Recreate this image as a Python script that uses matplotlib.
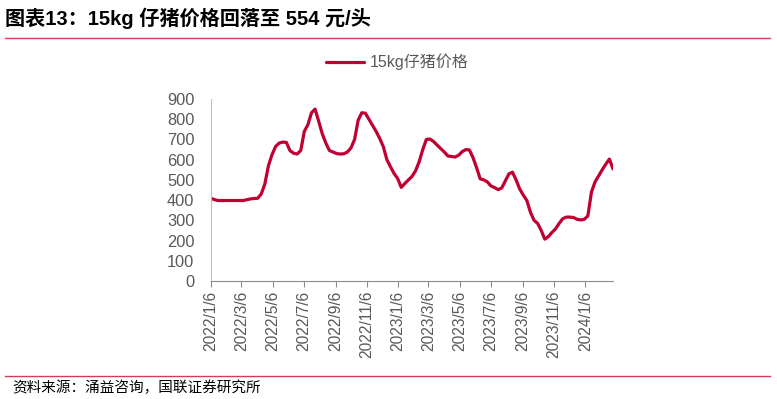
import numpy as np
import pandas as pd
import matplotlib
matplotlib.use("Agg")
import matplotlib.pyplot as plt
import matplotlib.dates as mdates

plt.rcParams['font.family'] = ['Liberation Sans', 'Noto Sans CJK SC', 'DejaVu Sans']

# weekly piglet price (15kg), yuan per head
start_date = "2022-01-06"
price = [
    409, 402, 398, 398, 398, 398, 398, 398, 398, 398,
    402, 406, 408, 409, 430, 480, 570, 625, 665, 682,
    687, 685, 645, 632, 628, 645, 740, 773, 832, 850,
    790, 728, 682, 645, 638, 630, 628, 629, 638, 658,
    700, 795, 832, 830, 800, 770, 740, 705, 665, 600,
    565, 532, 507, 463, 482, 500, 517, 545, 590, 650,
    700, 702, 690, 672, 655, 638, 618, 616, 613, 622,
    640, 650, 648, 610, 560, 505, 500, 490, 470, 462,
    452, 460, 495, 530, 538, 500, 455, 425, 398, 340,
    300, 285, 250, 207, 220, 240, 258, 285, 308, 316,
    316, 314, 305, 302, 305, 322, 440, 490, 520, 550,
    578, 603, 554,
]
dates = pd.date_range(start_date, periods=len(price), freq="7D")

tick_labels = ["2022/1/6", "2022/3/6", "2022/5/6", "2022/7/6", "2022/9/6",
               "2022/11/6", "2023/1/6", "2023/3/6", "2023/5/6", "2023/7/6",
               "2023/9/6", "2023/11/6", "2024/1/6"]
tick_dates = pd.to_datetime(tick_labels, format="%Y/%m/%d")

series_name = "15kg仔猪价格"
title = "图表13：15kg 仔猪价格回落至 554 元/头"
source = "资料来源：涌益咨询，国联证券研究所"

red = "#C00032"
grey = "#595959"

fig = plt.figure(figsize=(7.77, 3.99), dpi=100)
ax = fig.add_axes([211 / 777, 1 - 281 / 399, (613 - 211) / 777, (281 - 99) / 399])

ax.plot(dates, price, color=red, lw=2.3, label=series_name, solid_capstyle="round")

ax.set_ylim(0, 900)
ax.set_yticks(range(0, 901, 100))
ax.set_xlim(dates[0], dates[-1])
ax.set_xticks(tick_dates)
ax.set_xticklabels(tick_labels, rotation=90)

for side in ["top", "right"]:
    ax.spines[side].set_visible(False)
ax.spines["left"].set_color("#BFBFBF")
ax.spines["bottom"].set_color("#8C8C8C")
ax.tick_params(axis="y", length=0, labelsize=11.8, labelcolor=grey, pad=12)
ax.tick_params(axis="x", length=4, color="#8C8C8C", labelsize=11.2, labelcolor=grey, pad=3)

leg = ax.legend(loc="center", bbox_to_anchor=(397 / 777, 1 - 62 / 399),
                bbox_transform=fig.transFigure, frameon=False,
                handlelength=2.4, handletextpad=0.35,
                prop={"family": ["Liberation Sans", "Noto Sans CJK SC"], "size": 11.5})
for t in leg.get_texts():
    t.set_color(grey)

fig.text(5 / 777, 1 - 18 / 399, title, fontsize=14.5, fontweight="bold",
         family=["Liberation Sans", "Noto Sans CJK SC"], va="center", ha="left")
fig.add_artist(plt.Line2D([5 / 777, 770 / 777], [1 - 38 / 399] * 2,
                          color="#D9385A", lw=1, transform=fig.transFigure))
fig.add_artist(plt.Line2D([5 / 777, 770 / 777], [1 - 376 / 399] * 2,
                          color="#D9385A", lw=1, transform=fig.transFigure))
fig.text(12 / 777, 1 - 388 / 399, source, fontsize=10.5,
         family=["Noto Sans CJK SC"], va="center", ha="left")

fig.savefig("out.png", dpi=100)
